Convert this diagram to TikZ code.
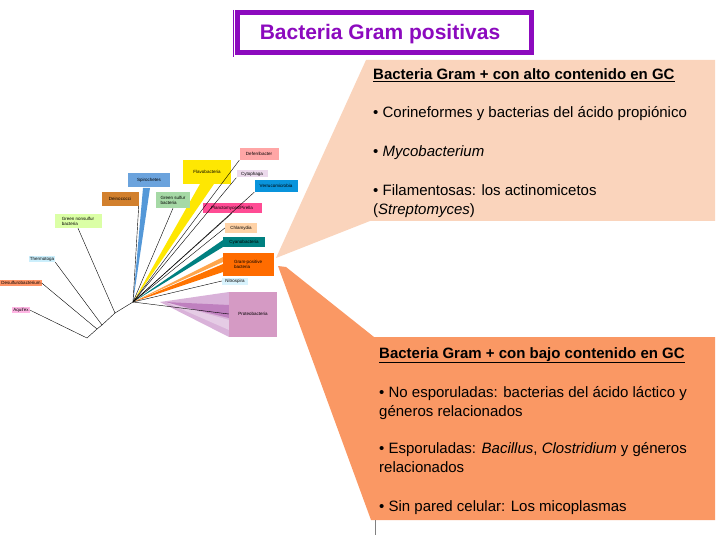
\documentclass[tikz,border=0pt]{standalone}
\usepackage{fontspec}
\setmainfont{Liberation Sans}
\definecolor{peach}{RGB}{250,212,188}
\definecolor{orng}{RGB}{250,152,100}
\definecolor{ttl}{RGB}{140,10,190}
\begin{document}
\begin{tikzpicture}[x=1pt,y=-1pt,
  lab/.style={font=\fontsize{4.5}{5}\selectfont,inner sep=1pt,align=left},
  tx/.style={anchor=base west,font=\fontsize{15}{19}\selectfont,align=left,inner sep=0pt},
  br/.style={black,line width=0.4pt}]
\useasboundingbox (0,0) rectangle (720,540);
% callouts
\fill[peach] (276,258) -- (366,60) -- (715,60) -- (715,221) -- (370,221) -- cycle;
\fill[orng] (278,266) -- (286,267) -- (374,337) -- (715,337) -- (715,520) -- (371,520) -- cycle;
\draw[gray] (375,520) -- (375,535);
% title
\node[draw=ttl,line width=5pt,fill=white,minimum width=294pt,minimum height=40pt,inner sep=0pt] (title) at (384,33) {};
\draw[ttl,line width=0.8pt] (233,10) -- (233,57);
\node[text=ttl,font=\fontsize{21}{24}\selectfont\bfseries,anchor=base] (tt) at (380,40) {Bacteria Gram positivas};
% callout texts
\node[tx] (h1) at (373,80) {\bfseries\underline{Bacteria Gram + con alto contenido en GC}};
\node[tx] (a1) at (373,118) {• Corineformes y bacterias del ácido propiónico};
\node[tx] (a2) at (373,157) {• \emph{Mycobacterium}};
\node[tx,anchor=north west] (a3) at (373,184) {• Filamentosas: los actinomicetos\\(\emph{Streptomyces})};
\node[tx] (h2) at (379,358) {\bfseries\underline{Bacteria Gram + con bajo contenido en GC}};
\node[tx,anchor=north west] (b1) at (379,386) {• No esporuladas: bacterias del ácido láctico y\\géneros relacionados};
\node[tx,anchor=north west] (b2) at (379,442) {• Esporuladas: \emph{Bacillus}, \emph{Clostridium} y géneros\\relacionados};
\node[tx] (b3) at (379,511) {• Sin pared celular: Los micoplasmas};
% tree
\coordinate (root) at (87,338);
\coordinate (n1) at (97,329);
\coordinate (n2) at (102,325);
\coordinate (n3) at (115,313);
\coordinate (hub) at (133,302);
% wedges
\fill[cyan!60!blue!70] (hub) -- (143,188) -- (150,188) -- cycle;
\fill[yellow!90!orange] (hub) -- (200,184) -- (214,184) -- cycle;
\fill[teal] (hub) -- (223,240) -- (223,247) -- cycle;
\fill[orange!70] (hub) -- (223,257) -- (223,262) -- cycle;
\fill[orange!90!red] (hub) -- (223,264) -- (223,272) -- cycle;
\fill[violet!30] (160,302) -- (229,292) -- (229,337) -- cycle;
\fill[violet!50] (165,302) -- (229,305) -- (229,318) -- cycle;
\fill[violet!20] (165,302) -- (229,320) -- (229,330) -- cycle;
% boxes
\node[lab,fill=pink!70!magenta!60] (aq) at (21,310) {Aquifex};
\node[lab,fill=orange!60!red!60] (ds) at (21,283) {Desulfurobacterium};
\node[lab,fill=cyan!20] (th) at (42,259) {Thermotoga};
\node[lab,fill=green!40!yellow!35,minimum width=47pt,minimum height=14pt] (gn) at (78,221) {Green nonsulfur\\bacteria};
\node[lab,fill=brown!70!orange,minimum width=37pt,minimum height=14pt] (de) at (120,199) {Deinococci};
\node[lab,fill=cyan!60!blue!60,minimum width=42pt,minimum height=14pt] (sp) at (149,180) {Spirochetes};
\node[lab,fill=green!40!gray!50,minimum width=34pt,minimum height=16pt] (gs) at (173,200) {Green sulfur\\bacteria};
\node[lab,fill=yellow!90!orange,minimum width=48pt,minimum height=24pt] (fl) at (207,172) {Flavobacteria};
\node[lab,fill=red!35,minimum width=39pt,minimum height=12pt] (df) at (259,154) {Deferribacter};
\node[lab,fill=violet!15,minimum width=31pt,minimum height=7pt] (cy) at (252,174) {Cytophaga};
\node[lab,fill=cyan!80!blue,minimum width=43pt,minimum height=12pt] (ve) at (276,186) {Verrucomicrobia};
\node[lab,fill=red!60!magenta!70,minimum width=59pt,minimum height=10pt] (pl) at (232,208) {Planctomyces/Pirella};
\node[lab,fill=orange!35,minimum width=32pt,minimum height=10pt] (ch) at (241,228) {Chlamydia};
\node[lab,fill=teal,minimum width=42pt,minimum height=10pt] (cb) at (244,242) {Cyanobacteria};
\node[lab,fill=orange!85!red,minimum width=51pt,minimum height=23pt] (gp) at (248,264) {Gram-positive\\bacteria};
\node[lab,fill=cyan!15,minimum width=26pt,minimum height=7pt] (ni) at (235,281) {Nitrospira};
\node[lab,fill=violet!55!pink!60,minimum width=48pt,minimum height=45pt] (pr) at (253,314) {Proteobacteria};
% branches
\draw[br] (root) -- (n1) -- (n2) -- (n3) -- (hub);
\draw[br] (root) -- (aq.east);
\draw[br] (n1) -- (ds.east);
\draw[br] (n2) -- (th.south east);
\draw[br] (n3) -- (gn.south);
\draw[br] (hub) -- (de.south east);
\draw[br] (hub) -- (gs.south);
\draw[br] (hub) -- (df.south west);
\draw[br] (hub) -- (cy.south west);
\draw[br] (hub) -- (ve.south west);
\draw[br] (hub) -- (pl.south);
\draw[br] (hub) -- (ch.west);
\draw[br] (hub) -- (ni.west);
\draw[br] (hub) -- (pr.west);
\end{tikzpicture}
\end{document}
